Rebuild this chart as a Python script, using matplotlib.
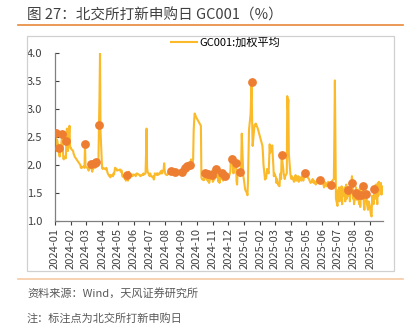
import pandas as pd
import matplotlib
matplotlib.use("Agg")
import matplotlib.pyplot as plt
import matplotlib.dates as mdates
from matplotlib.patches import Rectangle
from matplotlib.lines import Line2D

plt.rcParams['font.family'] = ['Noto Sans CJK SC', 'DejaVu Sans']

# GC001 weighted average (date, value)
dates_2024 = [
    "01-02", "01-03", "01-04", "01-05", "01-08", "01-09", "01-10", "01-11", "01-12", "01-15",
    "01-16", "01-17", "01-18", "01-19", "01-22", "01-23", "01-24", "01-25", "01-26", "01-29",
    "01-30", "01-31", "02-01", "02-02", "02-05", "02-06", "02-07", "02-08", "02-19", "02-20",
    "02-21", "02-22", "02-23", "02-26", "02-27", "02-28", "02-29", "03-01", "03-04", "03-05",
    "03-06", "03-07", "03-08", "03-11", "03-12", "03-13", "03-14", "03-15", "03-18", "03-19",
    "03-20", "03-21", "03-22", "03-25", "03-26", "03-27", "03-28", "03-29", "04-01", "04-02",
    "04-03", "04-08", "04-09", "04-10", "04-11", "04-12", "04-15", "04-16", "04-17", "04-18",
    "04-19", "04-22", "04-23", "04-24", "04-25", "04-26", "04-29", "04-30", "05-06", "05-07",
    "05-08", "05-09", "05-10", "05-13", "05-14", "05-15", "05-16", "05-17", "05-20", "05-21",
    "05-22", "05-23", "05-24", "05-27", "05-28", "05-29", "05-30", "05-31", "06-03", "06-04",
    "06-05", "06-06", "06-07", "06-11", "06-12", "06-13", "06-14", "06-17", "06-18", "06-19",
    "06-20", "06-21", "06-24", "06-25", "06-26", "06-27", "06-28", "07-01", "07-02", "07-03",
    "07-04", "07-05", "07-08", "07-09", "07-10", "07-11", "07-12", "07-15", "07-16", "07-17",
    "07-18", "07-19", "07-22", "07-23", "07-24", "07-25", "07-26", "07-29", "07-30", "07-31",
    "08-01", "08-02", "08-05", "08-06", "08-07", "08-08", "08-09", "08-12", "08-13", "08-14",
    "08-15", "08-16", "08-19", "08-20", "08-21", "08-22", "08-23", "08-26", "08-27", "08-28",
    "08-29", "08-30", "09-02", "09-03", "09-04", "09-05", "09-06", "09-09", "09-10", "09-11",
    "09-12", "09-13", "09-18", "09-19", "09-20", "09-23", "09-24", "09-25", "09-26", "09-27",
    "09-30", "10-08", "10-09", "10-10", "10-11", "10-14", "10-15", "10-16", "10-17", "10-18",
    "10-21", "10-22", "10-23", "10-24", "10-25", "10-28", "10-29", "10-30", "10-31", "11-01",
    "11-04", "11-05", "11-06", "11-07", "11-08", "11-11", "11-12", "11-13", "11-14", "11-15",
    "11-18", "11-19", "11-20", "11-21", "11-22", "11-25", "11-26", "11-27", "11-28", "11-29",
    "12-02", "12-03", "12-04", "12-05", "12-06", "12-09", "12-10", "12-11", "12-12", "12-13",
    "12-16", "12-17", "12-18", "12-19", "12-20", "12-23", "12-24", "12-25", "12-26", "12-27",
    "12-30", "12-31",
]
values_2024 = [
    2.58, 2.40, 2.25, 2.45, 2.31, 2.20, 2.15, 2.30, 2.25, 2.56,
    2.35, 2.12, 2.10, 2.15, 2.12, 2.42, 2.65, 2.30, 2.25, 2.70,
    2.35, 2.30, 2.30, 2.28, 2.25, 2.20, 2.18, 2.15, 2.00, 1.95,
    1.97, 1.95, 1.96, 1.98, 1.95, 2.38, 1.98, 1.96, 1.95, 1.92,
    1.90, 1.93, 1.95, 2.01, 1.92, 1.88, 1.95, 1.93, 2.04, 1.95,
    2.00, 2.05, 2.00, 2.10, 2.72, 3.20, 4.00, 2.60, 1.95, 1.93,
    1.95, 1.92, 1.95, 1.93, 1.88, 1.85, 1.80, 1.82, 1.78, 1.80,
    1.82, 1.80, 1.85, 1.83, 1.88, 1.95, 1.93, 1.90, 1.92, 1.88,
    1.90, 1.90, 1.80, 1.78, 1.82, 1.75, 1.78, 1.72, 1.83, 1.72,
    1.78, 1.88, 1.82, 1.80, 1.83, 1.82, 1.80, 1.83, 1.82, 1.83,
    1.80, 1.82, 1.85, 1.83, 1.82, 1.82, 1.80, 1.82, 1.83, 1.82,
    1.85, 1.83, 1.85, 2.20, 2.65, 1.95, 1.88, 1.82, 1.80, 1.85,
    1.82, 1.80, 1.78, 1.80, 1.74, 1.78, 1.85, 1.83, 1.85, 1.82,
    1.85, 1.83, 1.85, 1.88, 1.85, 1.90, 1.85, 1.92, 2.03, 1.90,
    1.85, 1.83, 1.82, 1.84, 1.86, 1.85, 1.88, 1.90, 1.85, 1.87,
    1.85, 1.88, 1.88, 1.86, 1.84, 1.86, 1.85, 1.88, 1.86, 1.85,
    1.88, 1.85, 1.88, 1.85, 1.87, 1.92, 1.90, 1.95, 1.93, 1.96,
    1.95, 1.98, 2.00, 2.05, 2.10, 2.05, 2.10, 2.60, 2.80, 2.92,
    2.85, 2.72, 2.70, 1.78, 1.75, 1.73, 1.76, 1.74, 1.86, 1.78,
    1.75, 1.72, 1.84, 1.70, 1.68, 1.80, 1.78, 1.82, 1.90, 1.70,
    1.75, 1.80, 1.82, 1.92, 1.78, 1.95, 1.70, 1.80, 1.68, 1.75,
    1.85, 1.75, 1.78, 1.72, 1.80, 1.80, 1.76, 1.78, 1.80, 1.78,
    1.79, 1.82, 1.85, 1.88, 2.15, 2.11, 1.95, 1.85, 2.05, 1.95,
    2.04, 1.70, 1.65, 1.90, 1.85, 1.87, 1.80, 1.85, 2.10, 2.56,
    1.80, 1.75,
]
dates_2025 = [
    "01-02", "01-03", "01-06", "01-07", "01-08", "01-09", "01-10", "01-13", "01-14", "01-15",
    "01-16", "01-17", "01-20", "01-21", "01-22", "01-23", "01-24", "01-27", "02-05", "02-06",
    "02-07", "02-10", "02-11", "02-12", "02-13", "02-14", "02-17", "02-18", "02-19", "02-20",
    "02-21", "02-24", "02-25", "02-26", "02-27", "02-28", "03-03", "03-04", "03-05", "03-06",
    "03-07", "03-10", "03-11", "03-12", "03-13", "03-14", "03-17", "03-18", "03-19", "03-20",
    "03-21", "03-24", "03-25", "03-26", "03-27", "03-28", "03-31", "04-01", "04-02", "04-03",
    "04-07", "04-08", "04-09", "04-10", "04-11", "04-14", "04-15", "04-16", "04-17", "04-18",
    "04-21", "04-22", "04-23", "04-24", "04-25", "04-28", "04-29", "04-30", "05-06", "05-07",
    "05-08", "05-09", "05-12", "05-13", "05-14", "05-15", "05-16", "05-19", "05-20", "05-21",
    "05-22", "05-23", "05-26", "05-27", "05-28", "05-29", "05-30", "06-03", "06-04", "06-05",
    "06-06", "06-09", "06-10", "06-11", "06-12", "06-13", "06-16", "06-17", "06-18", "06-19",
    "06-20", "06-23", "06-24", "06-25", "06-26", "06-27", "06-30", "07-01", "07-02", "07-03",
    "07-04", "07-07", "07-08", "07-09", "07-10", "07-11", "07-14", "07-15", "07-16", "07-17",
    "07-18", "07-21", "07-22", "07-23", "07-24", "07-25", "07-28", "07-29", "07-30", "07-31",
    "08-01", "08-04", "08-05", "08-06", "08-07", "08-08", "08-11", "08-12", "08-13", "08-14",
    "08-15", "08-18", "08-19", "08-20", "08-21", "08-22", "08-25", "08-26", "08-27", "08-28",
    "08-29", "09-01", "09-02", "09-03", "09-04", "09-05", "09-08", "09-09", "09-10", "09-11",
    "09-12", "09-15", "09-16", "09-17", "09-18", "09-19", "09-22", "09-23", "09-24", "09-25",
]
values_2025 = [
    1.60, 1.55, 1.50, 1.46, 1.70, 2.20, 2.63, 2.90, 3.20, 3.49,
    2.80, 2.34, 2.65, 2.72, 2.70, 2.74, 2.72, 2.65, 2.34, 2.20,
    2.00, 1.74, 1.80, 1.76, 1.85, 1.93, 1.85, 2.10, 2.37, 2.22,
    2.30, 2.35, 2.15, 2.00, 1.80, 1.85, 1.78, 1.68, 1.75, 1.70,
    1.65, 1.62, 1.80, 1.85, 1.75, 2.18, 1.95, 1.85, 1.80, 1.75,
    1.80, 1.85, 3.23, 3.00, 3.17, 2.20, 1.84, 1.78, 1.75, 1.80,
    1.70, 1.78, 1.75, 1.82, 1.72, 1.75, 1.80, 1.70, 1.75, 1.78,
    1.72, 1.80, 1.78, 1.75, 1.72, 1.85, 1.80, 1.82, 1.75, 1.72,
    1.70, 1.68, 1.72, 1.75, 1.70, 1.68, 1.72, 1.65, 1.70, 1.68,
    1.72, 1.75, 1.70, 1.73, 1.68, 1.70, 1.72, 1.65, 1.60, 1.70,
    1.65, 1.62, 1.68, 1.65, 1.70, 1.68, 1.60, 1.65, 1.70, 1.68,
    1.72, 1.75, 2.50, 3.51, 2.40, 1.40, 1.27, 1.55, 1.48, 1.60,
    1.35, 1.50, 1.62, 1.30, 1.55, 1.45, 1.60, 1.35, 1.50, 1.65,
    1.40, 1.55, 1.45, 1.60, 1.35, 1.50, 1.80, 1.67, 1.40, 1.55,
    1.30, 1.50, 1.60, 1.38, 1.55, 1.47, 1.30, 1.58, 1.25, 1.46,
    1.40, 1.55, 1.63, 1.30, 1.20, 1.40, 1.49, 1.30, 1.25, 1.20,
    1.35, 1.25, 1.15, 1.10, 1.08, 1.45, 1.30, 1.58, 1.60, 1.40,
    1.65, 1.30, 1.68, 1.45, 1.70, 1.55, 1.68, 1.47, 1.62, 1.50,
]

# Beijing Stock Exchange IPO subscription days (marked points)
ipo_days = [
    "2024-01-02", "2024-01-08", "2024-01-15", "2024-01-23", "2024-02-28", "2024-03-11",
    "2024-03-18", "2024-03-21", "2024-03-26", "2024-05-20", "2024-08-12", "2024-08-19",
    "2024-09-02", "2024-09-09", "2024-09-13", "2024-09-18", "2024-10-17", "2024-10-23",
    "2024-10-30", "2024-11-07", "2024-11-18", "2024-11-25", "2024-12-09", "2024-12-16",
    "2024-12-23", "2025-01-15", "2025-03-14", "2025-04-28", "2025-05-27", "2025-06-17",
    "2025-07-21", "2025-07-29", "2025-08-04", "2025-08-08", "2025-08-14", "2025-08-19",
    "2025-08-25", "2025-09-09",
]

gc001 = pd.Series(
    values_2024 + values_2025,
    index=pd.to_datetime(["2024-" + d for d in dates_2024] + ["2025-" + d for d in dates_2025]),
)
marks = gc001.loc[pd.to_datetime(ipo_days)]

line_color = "#FBBA2A"
dot_color = "#ED7D31"
text_color = "#404040"

fig = plt.figure(figsize=(4.16, 3.26), dpi=100)

# title + orange rules
fig.text(27 / 416, 1 - 15 / 326, "图 27：北交所打新申购日 GC001（%）", fontsize=10.5,
         color=text_color, va="center", ha="left")
fig.add_artist(Line2D([18 / 416, 403 / 416], [1 - 25 / 326] * 2, color="#E8873A", lw=1.2))
fig.add_artist(Line2D([18 / 416, 403 / 416], [1 - 279 / 326] * 2, color="#F6C9A4", lw=1.2))
fig.add_artist(Rectangle((27 / 416, 1 - 271 / 326), 367 / 416, 235 / 326, fill=False,
                         edgecolor="#D0D0D0", lw=0.9))
fig.text(27 / 416, 1 - 293 / 326, "资料来源：Wind，天风证券研究所", fontsize=8,
         color="#595959", va="center", ha="left")
fig.text(27 / 416, 1 - 318 / 326, "注：标注点为北交所打新申购日", fontsize=8,
         color="#595959", va="center", ha="left")

ax = fig.add_axes([55 / 416, 1 - 221 / 326, 328 / 416, 168 / 326])
ax.plot(gc001.index, gc001.values, color=line_color, lw=1.5, label="GC001:加权平均", zorder=2)
ax.plot(marks.index, marks.values, "o", color=dot_color, ms=5.3, zorder=3)

ax.set_ylim(1.0, 4.0)
ax.set_yticks([1.0, 1.5, 2.0, 2.5, 3.0, 3.5, 4.0])
ax.yaxis.set_major_formatter(plt.FormatStrFormatter("%.1f"))
ax.set_xlim(pd.Timestamp("2024-01-01"), pd.Timestamp("2025-09-26"))
ax.xaxis.set_major_locator(mdates.MonthLocator())
ax.xaxis.set_major_formatter(mdates.DateFormatter("%Y-%m"))
for lbl in ax.get_xticklabels():
    lbl.set_rotation(90)

ax.tick_params(axis="y", direction="in", length=3, labelsize=8, colors=text_color, pad=9)
ax.tick_params(axis="x", direction="out", length=3, labelsize=8, colors=text_color, pad=2)
for side in ["top", "right"]:
    ax.spines[side].set_visible(False)
for side in ["left", "bottom"]:
    ax.spines[side].set_color("#808080")
    ax.spines[side].set_linewidth(0.9)

ax.legend(loc="upper center", bbox_to_anchor=(0.52, 1.12), frameon=False, fontsize=8,
          handlelength=2.3, handletextpad=0.2, borderaxespad=0)

fig.savefig("out.png", dpi=100)
